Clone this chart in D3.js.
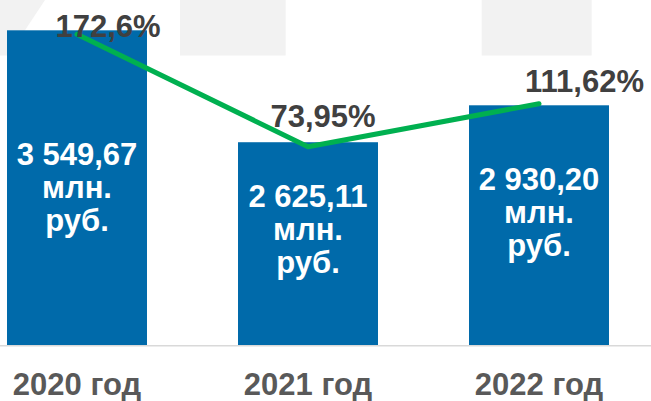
<!DOCTYPE html>
<html>
<head>
<meta charset="utf-8">
<script src="https://cdn.jsdelivr.net/npm/d3@7"></script>
<style>
  html, body { margin: 0; padding: 0; background: #fff; }
  svg { display: block; font-family: "Liberation Sans", Arial, sans-serif; }
</style>
</head>
<body>
<svg id="chart" width="651" height="401"></svg>
<script>
// ---- data ----
const categories = ["2020 год", "2021 год", "2022 год"];
const amounts = [3549.67, 2625.11, 2930.20];          // млн. руб.
const amountLabels = ["3 549,67", "2 625,11", "2 930,20"];
const unitLines = ["млн.", "руб."];
const growth = [172.6, 73.95, 111.62];                 // %
const growthLabels = ["172,6%", "73,95%", "111,62%"];

// ---- layout (not data) ----
const W = 651, H = 401;
const baseY = 345;
const pctOffsets = [[31, 3], [15, -20], [45.5, -11.5]];
const valueLabelDy = [-22.7, -36.6, -35];

const svg = d3.select("#chart");

// faint background shapes at the top
svg.append("polygon")
  .attr("points", "0,0 45,0 8.3,55.5 0,55.5")
  .attr("fill", "#f2f2f2");
svg.append("rect").attr("x", 180).attr("y", 0).attr("width", 105.7).attr("height", 55.5).attr("fill", "#f2f2f2");
svg.append("rect").attr("x", 481.7).attr("y", 0).attr("width", 110).attr("height", 55.5).attr("fill", "#f2f2f2");

const x = d3.scaleBand()
  .domain(categories)
  .range([-38.5, 654.5])
  .paddingInner(0.394)
  .paddingOuter(0.197);

const yBar = d3.scaleLinear().domain([950, 3800]).range([baseY, 0]);
const yLine = d3.scaleLinear().domain([0, 200]).range([231, 3]);

// bars
svg.append("g").selectAll("rect")
  .data(amounts)
  .join("rect")
  .attr("x", (d, i) => x(categories[i]))
  .attr("width", x.bandwidth())
  .attr("y", d => yBar(d))
  .attr("height", d => baseY - yBar(d))
  .attr("fill", "#006aaa");

// axis line
const xAxis = d3.axisBottom(x).tickSize(0).tickPadding(0);
const gx = svg.append("g").attr("transform", `translate(0,${baseY})`).call(xAxis);
gx.select(".domain").remove();
gx.selectAll(".tick text")
  .attr("dy", 0)
  .attr("y", 50)
  .attr("fill", "#595959")
  .style("font-size", "31px")
  .style("font-weight", "bold")
  .style("font-family", "'Liberation Sans', Arial, sans-serif");
svg.append("line")
  .attr("x1", 0).attr("x2", W)
  .attr("y1", baseY + 0.75).attr("y2", baseY + 0.75)
  .attr("stroke", "#d9d9d9").attr("stroke-width", 1.5);

// value labels inside bars
amounts.forEach((d, i) => {
  const cx = x(categories[i]) + x.bandwidth() / 2;
  const center = (yBar(d) + baseY) / 2;
  const t = svg.append("text")
    .attr("x", cx)
    .attr("y", center + valueLabelDy[i])
    .attr("text-anchor", "middle")
    .attr("fill", "#ffffff")
    .style("font-size", "31px")
    .style("font-weight", "bold");
  [amountLabels[i], ...unitLines].forEach((s, k) => {
    t.append("tspan").attr("x", cx).attr("dy", k === 0 ? 0 : 32.8).text(s);
  });
});

// growth line
const line = d3.line()
  .x((d, i) => x(categories[i]) + x.bandwidth() / 2)
  .y(d => yLine(d));
svg.append("path")
  .datum(growth)
  .attr("d", line)
  .attr("fill", "none")
  .attr("stroke", "#00b050")
  .attr("stroke-width", 5)
  .attr("stroke-linejoin", "round")
  .attr("stroke-linecap", "round");

// growth labels
svg.append("g").selectAll("text")
  .data(growth)
  .join("text")
  .attr("x", (d, i) => x(categories[i]) + x.bandwidth() / 2 + pctOffsets[i][0])
  .attr("y", (d, i) => yLine(d) + pctOffsets[i][1])
  .attr("text-anchor", "middle")
  .attr("fill", "#404040")
  .style("font-size", "31px")
  .style("font-weight", "bold")
  .text((d, i) => growthLabels[i]);
</script>
</body>
</html>
